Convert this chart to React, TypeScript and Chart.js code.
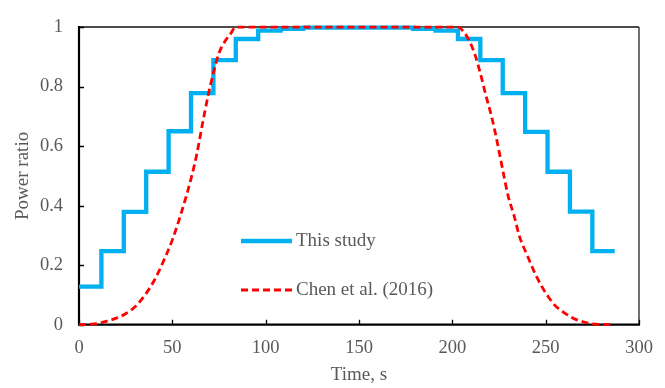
import React, { useEffect, useRef } from 'react';
import { Chart, registerables } from 'chart.js';

Chart.register(...registerables);

// Stepwise power ratio profile (value holds until the next time stamp)
const stepTimes = [0, 12, 24, 36, 48, 60, 72, 84, 96, 108, 120, 179, 191, 203, 215, 227, 239, 251, 263, 275, 287];
const stepRatios = [0.128, 0.247, 0.379, 0.514, 0.65, 0.778, 0.889, 0.96, 0.988, 0.994, 0.998, 0.994, 0.988, 0.96, 0.889, 0.778, 0.648, 0.514, 0.38, 0.247, 0.247];

// Smooth reference profile
const chenTimes = [0, 5, 10, 15, 20, 25, 30, 35, 40, 45, 50, 55, 60, 63, 66, 69, 72, 75, 78, 81, 84,
  203, 206, 209, 212, 215, 218, 221, 224, 227, 230, 233, 236, 240, 245, 250, 255, 260, 265, 270, 275, 280, 286];
const chenRatios = [0, 0.001, 0.004, 0.012, 0.022, 0.037, 0.06, 0.097, 0.145, 0.21, 0.285, 0.38, 0.49, 0.57, 0.67, 0.765, 0.846, 0.913, 0.95, 0.976, 1.0,
  1.0, 0.985, 0.955, 0.91, 0.845, 0.77, 0.7, 0.615, 0.52, 0.43, 0.368, 0.296, 0.235, 0.163, 0.107, 0.065, 0.04, 0.021, 0.01, 0.003, 0.001, 0];

const xTickValues = [0, 50, 100, 150, 200, 250, 300];
const yTickValues = [0, 0.2, 0.4, 0.6, 0.8, 1];

const seriesNames = ['This study', 'Chen et al. (2016)'];
const xTitle = 'Time, s';
const yTitle = 'Power ratio';

const FONT = "'Liberation Serif', 'Times New Roman', serif";
const TEXT = '#595959';
const BLUE = '#00B0F0';
const RED = '#FF0000';

const framePlugin = {
  id: 'frame',
  beforeDatasetsDraw(chart: any) {
    const { ctx, chartArea, scales } = chart;
    const { left, right, top, bottom } = chartArea;
    ctx.save();
    ctx.lineCap = 'butt';
    // top and right edges of the plot box
    ctx.lineWidth = 1.5;
    ctx.strokeStyle = '#111111';
    ctx.beginPath();
    ctx.moveTo(left, top);
    ctx.lineTo(right, top);
    ctx.stroke();
    ctx.strokeStyle = '#404040';
    ctx.beginPath();
    ctx.moveTo(right, top);
    ctx.lineTo(right, bottom);
    ctx.stroke();
    // main axes
    ctx.lineWidth = 2.2;
    ctx.strokeStyle = '#000000';
    ctx.beginPath();
    ctx.moveTo(left, top - 1);
    ctx.lineTo(left, bottom);
    ctx.lineTo(right + 1, bottom);
    ctx.stroke();
    // inward tick marks
    ctx.lineWidth = 1.3;
    ctx.beginPath();
    for (const v of xTickValues) {
      const px = Math.round(scales.x.getPixelForValue(v)) + 0.5;
      ctx.moveTo(px, bottom);
      ctx.lineTo(px, bottom - 5);
    }
    for (const v of yTickValues) {
      const py = Math.round(scales.y.getPixelForValue(v)) + 0.5;
      ctx.moveTo(left, py);
      ctx.lineTo(left + 5, py);
    }
    ctx.stroke();
    ctx.restore();
  },
  afterDraw(chart: any) {
    const { ctx } = chart;
    const rows = [241, 290];
    ctx.save();
    chart.data.datasets.forEach((ds: any, i: number) => {
      const y = rows[i];
      ctx.strokeStyle = ds.borderColor;
      ctx.lineWidth = ds.borderWidth;
      ctx.setLineDash(ds.borderDash || []);
      ctx.beginPath();
      ctx.moveTo(241, y);
      ctx.lineTo(292, y);
      ctx.stroke();
      ctx.setLineDash([]);
      ctx.fillStyle = TEXT;
      ctx.font = `19px ${FONT}`;
      ctx.textAlign = 'left';
      ctx.textBaseline = 'middle';
      ctx.fillText(ds.label, 296, y);
    });
    ctx.restore();
  },
};

export default function App() {
  const canvasRef = useRef<HTMLCanvasElement | null>(null);

  useEffect(() => {
    document.body.style.margin = '0';
    const canvas = canvasRef.current;
    if (!canvas) return;

    const chart = new Chart(canvas, {
      type: 'line',
      data: {
        datasets: [
          {
            label: seriesNames[0],
            data: stepTimes.map((t, i) => ({ x: t, y: stepRatios[i] })),
            borderColor: BLUE,
            backgroundColor: BLUE,
            borderWidth: 4.3,
            stepped: 'before',
            pointRadius: 0,
            fill: false,
            clip: false as any,
            order: 1,
          },
          {
            label: seriesNames[1],
            data: chenTimes.map((t, i) => ({ x: t, y: chenRatios[i] })),
            borderColor: RED,
            backgroundColor: RED,
            borderWidth: 2.8,
            borderDash: [7, 4],
            cubicInterpolationMode: 'monotone',
            pointRadius: 0,
            fill: false,
            clip: false as any,
            order: 0,
          },
        ],
      },
      options: {
        responsive: false,
        animation: false,
        devicePixelRatio: 1,
        layout: { padding: { top: 17.7, right: 26, left: 0, bottom: 0 } },
        plugins: {
          legend: { display: false },
          tooltip: { enabled: false },
        },
        scales: {
          x: {
            type: 'linear',
            min: 0,
            max: 300,
            afterBuildTicks: (s: any) => {
              s.ticks = xTickValues.map((v) => ({ value: v }));
            },
            afterFit: (s: any) => {
              s.height = 63.3;
            },
            ticks: {
              color: TEXT,
              font: { family: FONT, size: 18.5 },
              padding: 12,
              maxRotation: 0,
              callback: (v: any) => String(v),
            },
            grid: { display: false, drawTicks: false },
            border: { display: false },
            title: {
              display: true,
              text: xTitle,
              color: TEXT,
              font: { family: FONT, size: 19 },
              padding: { top: 0, bottom: 2 },
            },
          },
          y: {
            type: 'linear',
            min: 0,
            max: 1,
            afterBuildTicks: (s: any) => {
              s.ticks = yTickValues.map((v) => ({ value: v }));
            },
            afterFit: (s: any) => {
              s.width = 79;
            },
            ticks: {
              color: TEXT,
              font: { family: FONT, size: 18.5 },
              padding: 16,
              callback: (v: any) => String(Number(v.toFixed(1))),
            },
            grid: { display: false, drawTicks: false },
            border: { display: false },
            title: {
              display: true,
              text: yTitle,
              color: TEXT,
              font: { family: FONT, size: 19 },
              padding: { top: 12, bottom: 0 },
            },
          },
        },
      },
      plugins: [framePlugin],
    });

    return () => chart.destroy();
  }, []);

  return (
    <div style={{ position: 'absolute', left: 0, top: 0, width: 665, height: 388, background: '#ffffff' }}>
      <canvas ref={canvasRef} width={665} height={388} style={{ width: 665, height: 388, display: 'block' }} />
    </div>
  );
}
